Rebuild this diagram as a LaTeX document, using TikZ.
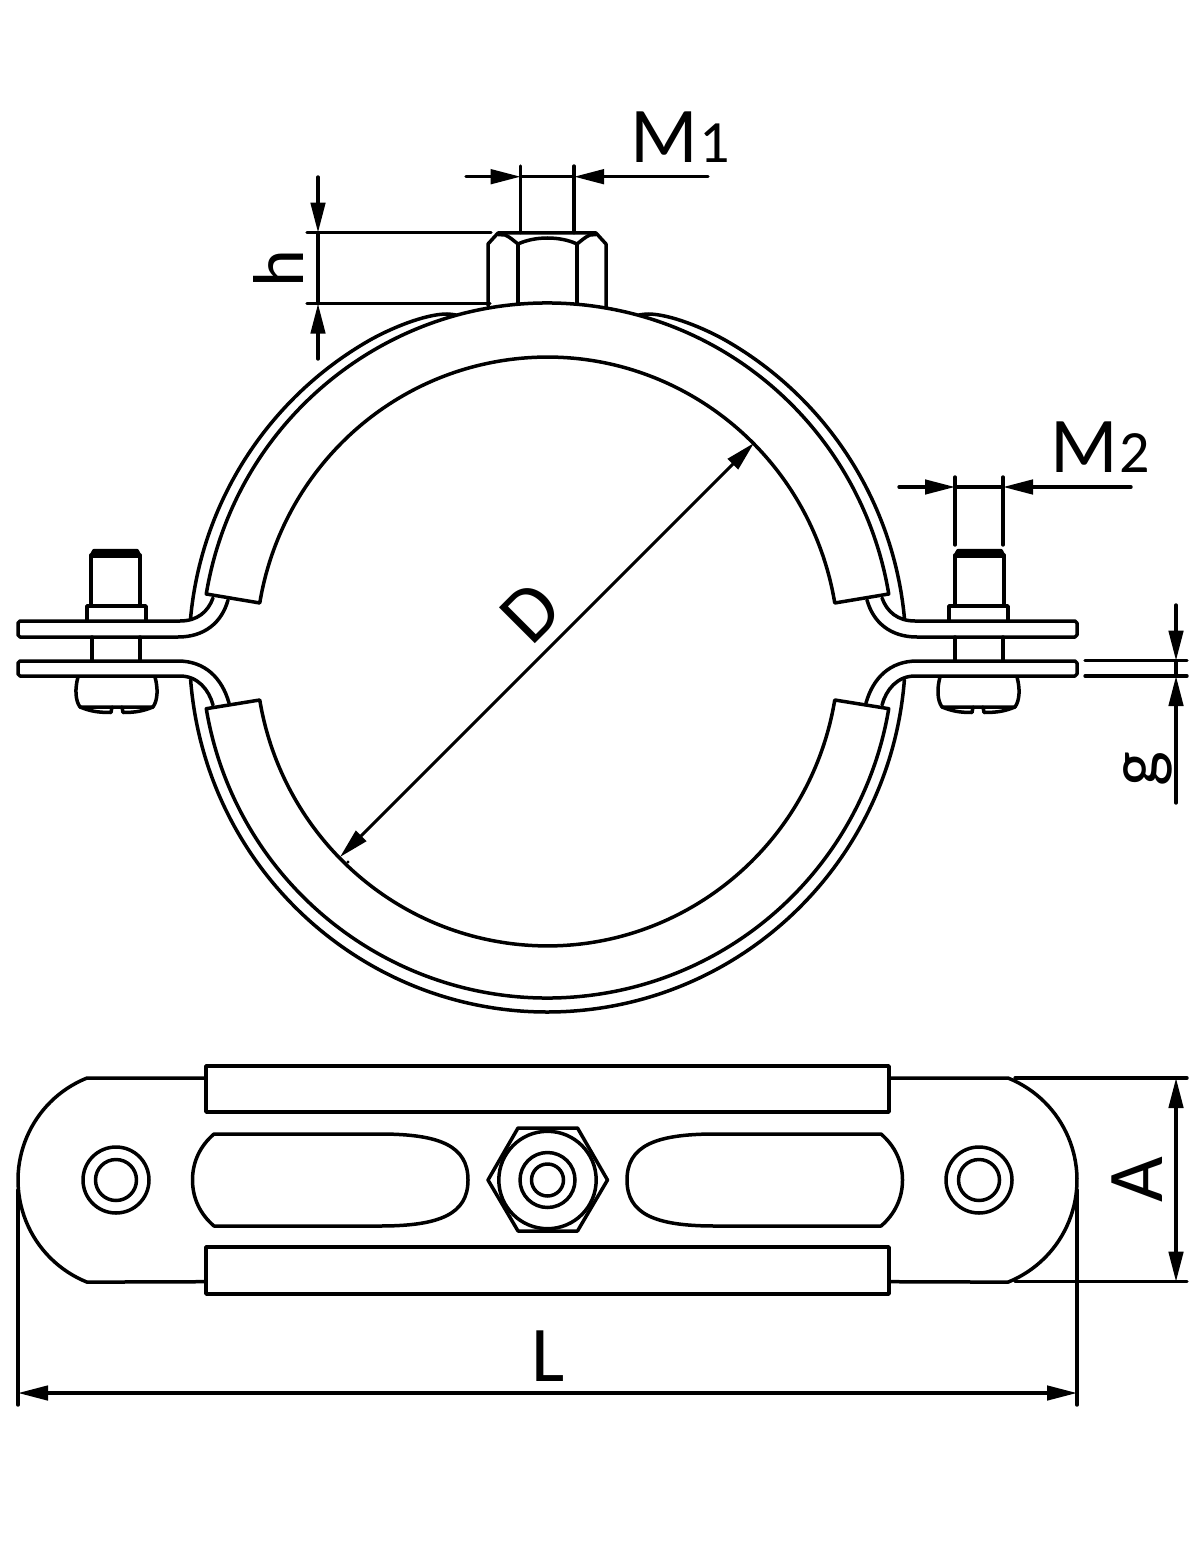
\documentclass[tikz,border=0pt]{standalone}
\usepackage{fontspec}
\usetikzlibrary{arrows.meta}
\newfontfamily\lab{Carlito}
\newcommand{\labfont}[1]{\fontsize{#1}{#1}\selectfont\lab}
\tikzset{
  ink/.style={line width=1.75pt,line cap=round,line join=round,draw=black},
  dimline/.style={ink,line width=1.7pt},
  dimtip/.style={-{Triangle[length=15pt,width=7.2pt]}},
  dimtips/.style={{Triangle[length=15pt,width=7.2pt]}-{Triangle[length=15pt,width=7.2pt]}},
  lbl/.style={inner sep=0pt,text=black},
}
% the left half of each view, drawn twice (the second time mirrored)
\newcommand{\clamphalf}{%
  % upper flange
  \draw[ink] (213,598) .. controls (208,612) and (197,621) .. (180,621) -- (20,621) -- (18,623) -- (18,635) -- (20,637) -- (178,637) .. controls (205,637) and (222,622) .. (228,600);
  % lower flange
  \draw[ink] (229,703) .. controls (222,678) and (205,661) .. (178,661) -- (20,661) -- (18,663) -- (18,674) -- (20,676) -- (180,676) .. controls (198,676) and (209,690) .. (213,705);
  % band, upper part
  \draw[ink] (C) ++(185.3:358.5) arc[start angle=185.3,end angle=240,radius=358.5] .. controls (390,328.5) and (425,314) .. (447,314) .. controls (450,314) and (453,314.5) .. (456,315);
  % bolt
  \draw[ink] (91,606) -- (91,555) (140,606) -- (140,555);
  \fill[ink,fill=black] (91,556) -- (94,550.5) -- (137,550.5) -- (140,556) -- cycle;
  \draw[ink] (87,621) -- (87,606) -- (146,606) -- (146,621);
  \draw[ink] (92,637) -- (92,661) (140,637) -- (140,661);
  \draw[ink] (78,677) .. controls (75,688) and (75,700) .. (80,707) -- (153,707) .. controls (158,700) and (158,688) .. (155,677);
  \draw[ink] (80,707) .. controls (90,711) and (97,712.5) .. (111,712.5) -- (112,707);
  \draw[ink] (122,707) -- (123,712.5) .. controls (136,712.5) and (143,711) .. (153,707);
  % plate of the lower view
  \draw[ink] (205.5,1078) -- (87,1078) arc[start angle=248.1,end angle=111.9,radius=110] -- (205.5,1281.7);
  \draw[ink] (116,1180) circle[radius=33];
  \draw[ink] (116,1180) circle[radius=20.5];
  \draw[ink] (214,1134) .. controls (200,1146) and (192.5,1162) .. (192.5,1180) .. controls (192.5,1198) and (200,1214) .. (214,1226) -- (380,1226) .. controls (440,1226) and (468,1214) .. (468,1180) .. controls (468,1146) and (440,1134) .. (380,1134) -- cycle;
}
\begin{document}
\begin{tikzpicture}[x=0.5pt,y=-0.5pt]
\useasboundingbox (0,0) rectangle (1200,1561);
\coordinate (C) at (547.5,651.5);
% mirrored pair of halves
\clamphalf
\begin{scope}[shift={(1095,0)},xscale=-1]
\coordinate (C) at (547.5,651.5);
\clamphalf
\end{scope}
\coordinate (C) at (547.5,651.5);
% liners
\draw[ink] (C) ++(189.5:346 and 348.5) arc[start angle=189.5,end angle=350.5,x radius=346,y radius=348.5]
  -- ++(-54,9) arc[start angle=350.5,end angle=189.5,x radius=291.5,y radius=294.5] -- cycle;
\draw[ink] (C) ++(170.5:346 and 346.5) arc[start angle=170.5,end angle=9.5,x radius=346,y radius=346.5]
  -- ++(-54,-8.7) arc[start angle=9.5,end angle=170.5,x radius=291.5,y radius=294.5] -- cycle;
% lower band
\draw[ink] (C) ++(175.5:358 and 360.5) arc[start angle=175.5,end angle=4.5,x radius=358,y radius=360.5];
% nut, side view
\draw[ink] (488,306) -- (488,244) -- (498,233) -- (596,233) -- (606,244) -- (606,308);
\draw[ink] (518,303) -- (518,244) (577,303) -- (577,244);
\draw[ink] (498,234.5) -- (505,235) .. controls (510,237) and (514,241) .. (518,244) .. controls (535,236) and (560,236) .. (577,244) .. controls (581,241) and (585,237) .. (590,235) -- (596,234.5);
% lower view: ribs, nut
\draw[ink] (206,1066) rectangle (889,1112);
\draw[ink] (206,1247) rectangle (889,1294);
\draw[ink] (488,1180) -- (518,1128) -- (577.5,1128) -- (607.5,1180) -- (577.5,1231) -- (518,1231) -- cycle;
\draw[ink] (547.5,1180) circle[radius=48.7];
\draw[ink] (547.5,1180) circle[radius=27.5];
\draw[ink] (547.5,1180) circle[radius=16];
% dimension M1
\coordinate (m1a) at (520.7,176.7); \coordinate (m1b) at (574,176.7);
\coordinate (m1l) at (466,176.7); \coordinate (m1r) at (708,176.7);
\draw[dimline] (520.7,166) -- (520.7,232.7) (574,166) -- (574,232.7);
\draw[dimline] (m1a) -- (m1b);
\draw[dimline,dimtip] (m1l) -- (m1a);
\draw[dimline,dimtip] (m1r) -- (m1b);
\node[lbl,anchor=base west] (lm1) at (630,163) {\labfont{39.5}M\kern1pt{\labfont{30}1}};
% dimension h
\coordinate (ha) at (318,232.7); \coordinate (hb) at (318,303.7);
\coordinate (ht) at (318,177); \coordinate (hd) at (318,359);
\draw[dimline] (307,232.7) -- (491,232.7) (307,303.7) -- (490,303.7);
\draw[dimline] (ha) -- (hb);
\draw[dimline,dimtip] (ht) -- (ha);
\draw[dimline,dimtip] (hd) -- (hb);
\node[lbl,anchor=base,rotate=90] (lh) at (303,268.5) {\labfont{36}h};
% dimension M2
\coordinate (m2a) at (955,487); \coordinate (m2b) at (1003,487);
\coordinate (m2l) at (899,487); \coordinate (m2r) at (1131,487);
\draw[dimline] (955,477) -- (955,545) (1003,477) -- (1003,545);
\draw[dimline] (m2a) -- (m2b);
\draw[dimline,dimtip] (m2l) -- (m2a);
\draw[dimline,dimtip] (m2r) -- (m2b);
\node[lbl,anchor=base west] (lm2) at (1050,473) {\labfont{39.5}M\kern1pt{\labfont{30}2}};
% dimension g
\coordinate (ga) at (1176,660.7); \coordinate (gb) at (1176,676);
\coordinate (gt) at (1176,605); \coordinate (gd) at (1176,803);
\draw[dimline] (1085,660.7) -- (1187,660.7) (1085,676) -- (1187,676);
\draw[dimline] (ga) -- (gb);
\draw[dimline,dimtip] (gt) -- (ga);
\draw[dimline,dimtip] (gd) -- (gb);
\node[lbl,anchor=base,rotate=90] (lg) at (1159,769) {\labfont{37}g};
% dimension D
\coordinate (da) at (754,443); \coordinate (db) at (340,857);
\draw[dimline,line width=1.5pt,dimtips] (db) -- (da);
\fill (348,862) circle[radius=1.6];
\node[lbl,rotate=45] (ld) at (531,612) {\labfont{39.5}D};
% dimension A
\coordinate (aa) at (1176,1078); \coordinate (ab) at (1176,1281.7);
\draw[dimline] (1015,1078) -- (1187,1078) (1015,1281.7) -- (1187,1281.7);
\draw[dimline,dimtips] (aa) -- (ab);
\node[lbl,anchor=base,rotate=90] (la) at (1162,1180) {\labfont{39.5}A};
% dimension L
\coordinate (la1) at (18,1393); \coordinate (la2) at (1077,1393);
\draw[dimline] (18,1190) -- (18,1405) (1077,1190) -- (1077,1405);
\draw[dimline,dimtips] (la1) -- (la2);
\node[lbl,anchor=base] (ll) at (548,1381) {\labfont{39.5}L};
\end{tikzpicture}
\end{document}
